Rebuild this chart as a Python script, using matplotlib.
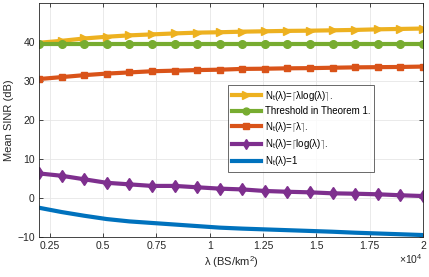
import matplotlib
matplotlib.use("Agg")
import matplotlib.pyplot as plt

plt.rcParams['font.family'] = ['Liberation Sans', 'DejaVu Sans']
plt.rcParams['mathtext.fontset'] = 'custom'
plt.rcParams['mathtext.rm'] = 'Liberation Sans'
plt.rcParams['mathtext.it'] = 'Liberation Sans'

lam = [2000, 3059, 4118, 5176, 6235, 7294, 8353, 9412, 10471, 11529,
       12588, 13647, 14706, 15765, 16824, 17882, 18941, 20000]

sinr_lamlog = [39.8, 40.3, 40.9, 41.35, 41.7, 41.95, 42.2, 42.4, 42.5, 42.65,
               42.75, 42.85, 42.9, 43.0, 43.1, 43.25, 43.35, 43.45]
sinr_thresh = [39.4] * 18
sinr_lam = [30.5, 31.0, 31.5, 31.9, 32.2, 32.5, 32.65, 32.8, 32.9, 33.1,
            33.15, 33.25, 33.3, 33.4, 33.5, 33.55, 33.6, 33.7]
sinr_log = [6.3, 5.7, 4.8, 3.9, 3.5, 3.1, 3.1, 2.75, 2.4, 2.2,
            1.8, 1.6, 1.45, 1.2, 1.1, 0.95, 0.7, 0.5]
sinr_one = [-2.5, -3.6, -4.55, -5.4, -6.0, -6.4, -6.8, -7.2, -7.6, -7.85,
            -8.05, -8.25, -8.45, -8.65, -8.9, -9.1, -9.3, -9.5]

xticks = [2500, 5000, 7500, 10000, 12500, 15000, 17500, 20000]
xticklabels = ['0.25', '0.5', '0.75', '1', '1.25', '1.5', '1.75', '2']
yticks = [-10, 0, 10, 20, 30, 40]

labels = [r'N$_\mathrm{t}$($\lambda$)=$\lceil\lambda$log($\lambda$)$\rceil$.',
          'Threshold in Theorem 1.',
          r'N$_\mathrm{t}$($\lambda$)=$\lceil\lambda\rceil$.',
          r'N$_\mathrm{t}$($\lambda$)=$\lceil$log($\lambda$)$\rceil$.',
          r'N$_\mathrm{t}$($\lambda$)=1']

fig = plt.figure(figsize=(4.29, 2.77), dpi=100)
ax = fig.add_axes([39/429, 40/277, 384/429, 234/277])

lw = 3.0
ax.plot(lam, sinr_lamlog, color='#EDB120', lw=lw, marker='>', ms=6, label=labels[0])
ax.plot(lam, sinr_thresh, color='#77AC30', lw=lw, marker='o', ms=5.5, label=labels[1])
ax.plot(lam, sinr_lam, color='#D95319', lw=lw, marker='s', ms=5, label=labels[2])
ax.plot(lam, sinr_log, color='#7E2F8E', lw=lw, marker='d', ms=6, label=labels[3])
ax.plot(lam, sinr_one, color='#0072BD', lw=lw, label=labels[4])

ax.set_xlim(2000, 20000)
ax.set_ylim(-10, 50)
ax.set_xticks(xticks)
ax.set_xticklabels(xticklabels)
ax.set_yticks(yticks)
ax.grid(True, color='#e6e6e6', lw=0.6)
ax.set_axisbelow(True)
ax.tick_params(direction='in', length=3, width=0.6, colors='#262626',
               labelsize=7.5, top=True, right=True, pad=3)
for s in ax.spines.values():
    s.set_color('#262626')
    s.set_linewidth(0.6)

ax.set_ylabel('Mean SINR (dB)', fontsize=8, color='#262626', labelpad=2)
ax.set_xlabel(r'$\lambda$ (BS/km$^2$)', fontsize=8, color='#262626', labelpad=2)
ax.text(1.0, -0.065, r'$\times$10$^4$', transform=ax.transAxes, ha='right', va='top',
        fontsize=7.5, color='#262626')

leg = ax.legend(loc='upper left', bbox_to_anchor=(0.492, 0.650), borderaxespad=0,
                fontsize=7, frameon=True, fancybox=False, edgecolor='#262626',
                handlelength=3.0, handletextpad=0.4, labelspacing=0.35,
                borderpad=0.4, markerscale=0.9)
leg.get_frame().set_linewidth(0.6)

fig.savefig('out.png', dpi=100)
